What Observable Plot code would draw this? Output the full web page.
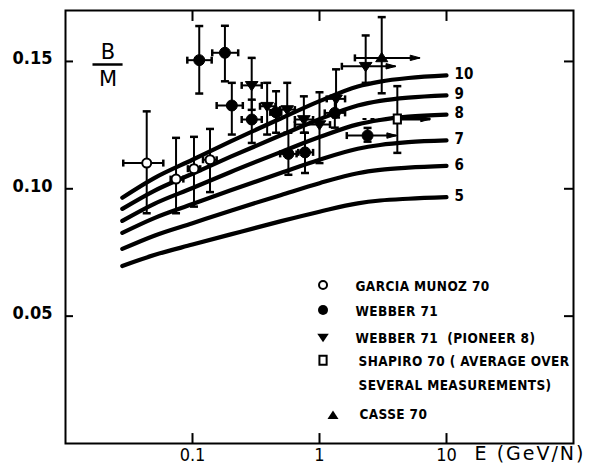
<!DOCTYPE html>
<html>
<head>
<meta charset="utf-8">
<script src="https://cdn.jsdelivr.net/npm/d3@7"></script>
<script src="https://cdn.jsdelivr.net/npm/@observablehq/plot@0.6"></script>
<style>
  body { margin: 0; background: #fff; }
  svg { font-family: "DejaVu Sans Condensed", "DejaVu Sans", sans-serif; }
</style>
</head>
<body>
<div id="chart"></div>
<script>
// ---------------- data ----------------
const xTicks = [0.1, 1, 10];
const xTickLabels = ["0.1", "1", "10"];
const yTicks = [0.05, 0.10, 0.15];
const yTickLabels = ["0.05", "0.10", "0.15"];

// model curves (labels 10 ... 5)
const curveLabels = ["10", "9", "8", "7", "6", "5"];
const curveE = [0.028, 0.05, 0.1, 0.2, 0.5, 1, 2, 3, 5, 10];
const curve10 = [0.0965, 0.1042, 0.1114, 0.1186, 0.1277, 0.1344, 0.1402, 0.1421, 0.1435, 0.1445];
const curve9  = [0.0921, 0.0992, 0.1059, 0.1126, 0.1211, 0.1273, 0.1327, 0.1345, 0.1358, 0.1367];
const curve8  = [0.0874, 0.0941, 0.1003, 0.1066, 0.1145, 0.1203, 0.1253, 0.1270, 0.1283, 0.1291];
const curve7  = [0.0827, 0.0885, 0.0940, 0.0994, 0.1063, 0.1114, 0.1157, 0.1172, 0.1183, 0.1190];
const curve6  = [0.0764, 0.0816, 0.0865, 0.0914, 0.0976, 0.1022, 0.1061, 0.1074, 0.1083, 0.1090];
const curve5  = [0.0697, 0.0740, 0.0781, 0.0821, 0.0873, 0.0910, 0.0943, 0.0954, 0.0961, 0.0967];

// GARCIA MUNOZ 70 (open circles)
const garciaE   = [0.0436, 0.0742, 0.1027, 0.1374];
const garciaV   = [0.1101, 0.1038, 0.1079, 0.1114];
const garciaLo  = [0.0904, 0.0904, 0.0930, 0.0987];
const garciaHi  = [0.1304, 0.1200, 0.1204, 0.1235];
const garciaElo = [0.0285, 0.0673, 0.0920, 0.1210];
const garciaEhi = [0.0589, 0.0847, 0.1150, 0.1550];
const garciaOpen = [0, 0, 0, 0];

// WEBBER 71 (filled circles)
const webberE   = [0.113, 0.180, 0.204, 0.293, 0.455, 0.569, 0.769, 1.32, 2.39];
const webberV   = [0.1505, 0.1534, 0.1327, 0.1272, 0.1300, 0.1137, 0.1143, 0.1298, 0.1209];
const webberLo  = [0.1374, 0.1422, 0.1213, 0.1180, 0.1220, 0.1055, 0.1062, 0.1240, 0.1185];
const webberHi  = [0.1639, 0.1640, 0.1416, 0.1350, 0.1383, 0.1220, 0.1220, 0.1360, 0.1239];
const webberElo = [0.091, 0.143, 0.155, 0.244, 0.410, 0.490, 0.680, 1.10, 1.64];
const webberEhi = [0.1416, 0.229, 0.249, 0.351, 0.500, 0.660, 0.890, 1.59, 4.06];
const webberOpen = [0, 0, 0, 0, 0, 0, 0, 0, 1];

// WEBBER 71 (PIONEER 8) (inverted triangles)
const pioneerE   = [0.2925, 0.387, 0.557, 0.753, 1.00, 1.35, 2.31];
const pioneerV   = [0.1406, 0.1324, 0.1311, 0.1272, 0.1252, 0.1353, 0.1481];
const pioneerLo  = [0.1310, 0.1213, 0.1220, 0.1220, 0.1101, 0.1280, 0.1416];
const pioneerHi  = [0.1514, 0.1416, 0.1416, 0.1363, 0.1379, 0.1469, 0.1602];
const pioneerElo = [0.244, 0.340, 0.490, 0.640, 0.640, 1.14, 1.50];
const pioneerEhi = [0.351, 0.450, 0.640, 0.890, 1.21, 1.59, 4.00];
const pioneerOpen = [0, 0, 0, 0, 0, 0, 1];

// SHAPIRO 70 (square)
const shapiroE = [4.10];
const shapiroV = [0.1274];
const shapiroLo = [0.1141];
const shapiroHi = [0.1403];
const shapiroElo = [2.20];
const shapiroEhi = [7.50];

// CASSE 70 (upright triangle)
const casseE = [3.09];
const casseV = [0.1514];
const casseLo = [0.1375];
const casseHi = [0.1674];
const casseElo = [1.90];
const casseEhi = [6.20];

const legendLabels = ["GARCIA MUNOZ 70", "WEBBER 71", "WEBBER 71  (PIONEER 8)",
  "SHAPIRO 70 ( AVERAGE OVER", "SEVERAL MEASUREMENTS)", "CASSE 70"];

// ---------------- build tables ----------------
function table(E, V, lo, hi, elo, ehi, open) {
  return E.map((e, i) => ({E: e, v: V[i], lo: lo[i], hi: hi[i], elo: elo[i], ehi: ehi[i], open: open ? open[i] : 0}));
}
const garcia = table(garciaE, garciaV, garciaLo, garciaHi, garciaElo, garciaEhi, garciaOpen);
const webber = table(webberE, webberV, webberLo, webberHi, webberElo, webberEhi, webberOpen);
const pioneer = table(pioneerE, pioneerV, pioneerLo, pioneerHi, pioneerElo, pioneerEhi, pioneerOpen);
const shapiro = table(shapiroE, shapiroV, shapiroLo, shapiroHi, shapiroElo, shapiroEhi, [1]);
const casse = table(casseE, casseV, casseLo, casseHi, casseElo, casseEhi, [1]);
const xBarred = [...garcia, ...webber, ...pioneer, ...casse];
const allPts = [...garcia, ...webber, ...pioneer, ...shapiro, ...casse];

const curves = [curve10, curve9, curve8, curve7, curve6, curve5];
const curveRows = curves.flatMap((c, k) => curveE.map((e, j) => ({E: e, v: c[j], k: curveLabels[k]})));
const curveEnds = curves.map((c, k) => ({E: curveE[curveE.length - 1], v: c[c.length - 1], label: curveLabels[k]}));

// ---------------- symbols ----------------
const hbar = {draw(ctx, size) { const r = Math.sqrt(size / Math.PI); ctx.moveTo(-r, 0); ctx.lineTo(r, 0); }};
const vbar = {draw(ctx, size) { const r = Math.sqrt(size / Math.PI); ctx.moveTo(0, -r); ctx.lineTo(0, r); }};
const invTri = {draw(ctx, size) { const r = Math.sqrt(size / Math.PI);
  ctx.moveTo(-r * 1.15, -r * 0.7); ctx.lineTo(r * 1.15, -r * 0.7); ctx.lineTo(0, r * 1.0); ctx.closePath(); }};
const upTri = {draw(ctx, size) { const r = Math.sqrt(size / Math.PI);
  ctx.moveTo(-r * 1.1, r * 0.7); ctx.lineTo(r * 1.1, r * 0.7); ctx.lineTo(0, -r * 1.0); ctx.closePath(); }};
const rect = {draw(ctx, size) { const r = Math.sqrt(size / Math.PI);
  ctx.moveTo(-r * 0.8, -r); ctx.lineTo(r * 0.8, -r); ctx.lineTo(r * 0.8, r); ctx.lineTo(-r * 0.8, r); ctx.closePath(); }};
const arrowHead = {draw(ctx, size) { const r = Math.sqrt(size / Math.PI);
  ctx.moveTo(0, 0); ctx.lineTo(-2.2 * r, -0.6 * r); ctx.lineTo(-2.2 * r, 0.6 * r); ctx.closePath(); }};

// ---------------- layout constants ----------------
const ML = 65, MT = 10;
const legendMarkX = 1.066, legendMarkX2 = 1.277;
const legendMarkY = [0.0622, 0.0524, 0.0417, 0.0327, 0.0110];
const legendText = [[355, 286], [355, 311], [355, 338], [358, 361], [358, 385], [359, 414]];

const bold = "bold";
const plot = Plot.plot({
  width: 590,
  height: 468,
  marginLeft: ML,
  marginRight: 17,
  marginTop: MT,
  marginBottom: 25,
  x: {type: "log", domain: [0.01, 100], axis: null},
  y: {domain: [0, 0.17], axis: null},
  marks: [
    // model curves
    Plot.line(curveRows, {x: "E", y: "v", z: "k", stroke: "black", strokeWidth: 4.2, curve: "monotone-x"}),
    Plot.text(curveEnds, {x: "E", y: "v", text: "label", dx: 8, dy: -1, textAnchor: "start",
      fontSize: 15, fontWeight: bold, fill: "black"}),

    // vertical error bars + caps
    Plot.ruleX(allPts, {x: "E", y1: "lo", y2: "hi", stroke: "black", strokeWidth: 2}),
    Plot.dot(allPts, {x: "E", y: "lo", symbol: hbar, r: 4, stroke: "black", fill: "none", strokeWidth: 2.5}),
    Plot.dot(allPts, {x: "E", y: "hi", symbol: hbar, r: 4, stroke: "black", fill: "none", strokeWidth: 2.5}),

    // horizontal energy bars
    Plot.ruleY(xBarred, {y: "v", x1: "elo", x2: "ehi", stroke: "black", strokeWidth: 2}),
    Plot.dot(xBarred, {x: "elo", y: "v", symbol: vbar, r: 3.5, stroke: "black", fill: "none", strokeWidth: 2.5}),
    Plot.dot(xBarred.filter(d => !d.open), {x: "ehi", y: "v", symbol: vbar, r: 3.5, stroke: "black", fill: "none", strokeWidth: 2.5}),
    Plot.dot(xBarred.filter(d => d.open), {x: "ehi", y: "v", symbol: arrowHead, r: 4.5, fill: "black", stroke: "black", strokeWidth: 1}),
    // Shapiro: dashed lower part, arrow upper part
    Plot.ruleY(shapiro, {y: "v", x1: "elo", x2: "E", stroke: "black", strokeWidth: 2, strokeDasharray: "4,4"}),
    Plot.ruleY(shapiro, {y: "v", x1: "E", x2: "ehi", stroke: "black", strokeWidth: 3}),
    Plot.dot(shapiro, {x: "ehi", y: "v", symbol: arrowHead, r: 4.5, fill: "black", stroke: "black", strokeWidth: 1}),

    // markers
    Plot.dot(webber, {x: "E", y: "v", symbol: "circle", r: 5.5, fill: "black", stroke: "black", strokeWidth: 1}),
    Plot.dot(pioneer, {x: "E", y: "v", symbol: invTri, r: 5.5, fill: "black", stroke: "black", strokeWidth: 1}),
    Plot.dot(casse, {x: "E", y: "v", symbol: upTri, r: 5.5, fill: "black", stroke: "black", strokeWidth: 1}),
    Plot.dot(garcia, {x: "E", y: "v", symbol: "circle", r: 4.5, fill: "white", stroke: "black", strokeWidth: 2}),
    Plot.dot(shapiro, {x: "E", y: "v", symbol: rect, r: 4.5, fill: "white", stroke: "black", strokeWidth: 2}),

    // B / M label
    Plot.text(["B"], {x: 0.0216, y: 0.1535, text: d => d, fontSize: 21, fill: "black", fontFamily: "DejaVu Sans"}),
    Plot.text(["M"], {x: 0.0216, y: 0.1429, text: d => d, fontSize: 21, fill: "black", fontFamily: "DejaVu Sans"}),
    Plot.ruleY([0.1488], {x1: 0.01646, x2: 0.0284, stroke: "black", strokeWidth: 2.5}),

    // legend markers
    Plot.dot([0], {x: legendMarkX, y: legendMarkY[0], symbol: "circle", r: 4, fill: "white", stroke: "black", strokeWidth: 2}),
    Plot.dot([0], {x: legendMarkX, y: legendMarkY[1], symbol: "circle", r: 5, fill: "black"}),
    Plot.dot([0], {x: legendMarkX, y: legendMarkY[2], symbol: invTri, r: 5, fill: "black"}),
    Plot.dot([0], {x: legendMarkX, y: legendMarkY[3], symbol: rect, r: 4.5, fill: "white", stroke: "black", strokeWidth: 2}),
    Plot.dot([0], {x: legendMarkX2, y: legendMarkY[4], symbol: upTri, r: 5, fill: "black"}),
    // legend text
    ...legendLabels.map((t, i) => Plot.text([t], {frameAnchor: "top-left", text: d => d,
      dx: legendText[i][0] - ML, dy: legendText[i][1] - MT, textAnchor: "start", lineAnchor: "middle",
      fontSize: 13.5, fontWeight: bold, fill: "black"})),

    // tick labels
    Plot.text(xTicks, {x: d => d, text: (d, i) => xTickLabels[i], frameAnchor: "bottom", lineAnchor: "top",
      dy: 5, fontSize: 18, fill: "black"}),
    Plot.text(yTicks, {y: d => d, text: (d, i) => yTickLabels[i], frameAnchor: "left", textAnchor: "end",
      dx: -13, dy: -3, fontSize: 18, fontWeight: bold, fill: "black"}),
    Plot.text(["E (GeV/N)"], {frameAnchor: "bottom-right", text: d => d, textAnchor: "end", lineAnchor: "top",
      dx: 12, dy: 3, fontSize: 19, fill: "black", fontFamily: "DejaVu Sans"}),

    // inward ticks on the frame
    Plot.ruleX(xTicks, {x: d => d, y1: 0, y2: 0.0039, stroke: "black", strokeWidth: 2}),
    Plot.ruleX(xTicks, {x: d => d, y1: 0.17, y2: 0.1657, stroke: "black", strokeWidth: 2}),
    Plot.ruleY(yTicks, {y: d => d, x1: 0.01, x2: 0.01156, stroke: "black", strokeWidth: 2}),
    Plot.ruleY(yTicks, {y: d => d, x1: 84.9, x2: 100, stroke: "black", strokeWidth: 2}),

    Plot.frame({stroke: "black", strokeWidth: 2})
  ]
});

document.getElementById("chart").appendChild(plot);

// letter spacing for the typewriter-like labels
const legendSet = new Set(legendLabels);
d3.select(plot).selectAll("text").each(function() {
  const t = this.textContent;
  if (legendSet.has(t)) d3.select(this).attr("letter-spacing", "0.4px");
  if (t === "E (GeV/N)") d3.select(this).attr("letter-spacing", "2px");
});
</script>
</body>
</html>
